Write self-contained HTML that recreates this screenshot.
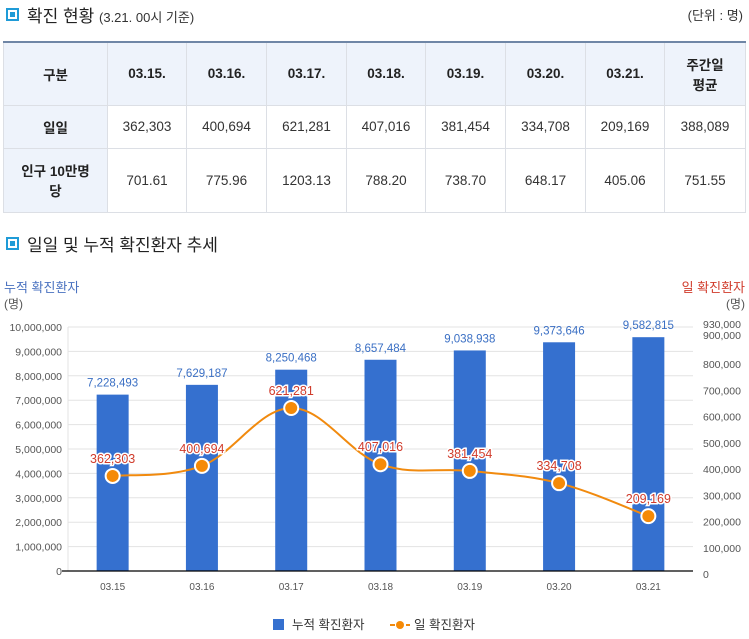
<!DOCTYPE html>
<html><head><meta charset="utf-8">
<style>
body{margin:0;width:749px;height:639px;background:#fff;font-family:"Liberation Sans","Noto Sans CJK KR",sans-serif;position:relative;overflow:hidden;color:#333}
.ttl{position:absolute;left:6px;font-size:17px;color:#222;font-weight:normal}
.ttl .sq{display:inline-block;width:9px;height:9px;border:2px solid #1f9bd7;background:#fff;margin-right:8px;vertical-align:1px;box-shadow:inset 0 0 0 2px #fff, inset 0 0 0 9px #1f9bd7}
.ttl small{font-size:13px;color:#333}
table{position:absolute;left:3px;top:41px;width:743px;border-collapse:collapse;border-top:2px solid #6f86a6;font-size:13.5px;table-layout:fixed}
td,th{border:1px solid #dcdfe5;text-align:center;color:#333}
th{background:#eef3fb;font-weight:bold;color:#222}
tr td:first-child{background:#eef3fb;font-weight:bold;color:#222}
</style></head><body>
<div class="ttl" style="top:2px"><span class="sq"></span>확진 현황 <small>(3.21. 00시 기준)</small></div>
<div style="position:absolute;right:6px;top:5px;font-size:13px">(단위 : 명)</div>
<table>
<colgroup><col style="width:104px"><col style="width:79px"><col style="width:80px"><col style="width:80px"><col style="width:79px"><col style="width:80px"><col style="width:80px"><col style="width:79px"><col></colgroup>
<tr style="height:63px"><th>구분</th><th>03.15.</th><th>03.16.</th><th>03.17.</th><th>03.18.</th><th>03.19.</th><th>03.20.</th><th>03.21.</th><th>주간일<br>평균</th></tr>
<tr style="height:43px"><td>일일</td><td>362,303</td><td>400,694</td><td>621,281</td><td>407,016</td><td>381,454</td><td>334,708</td><td>209,169</td><td>388,089</td></tr>
<tr style="height:64px"><td>인구 10만명<br>당</td><td>701.61</td><td>775.96</td><td>1203.13</td><td>788.20</td><td>738.70</td><td>648.17</td><td>405.06</td><td>751.55</td></tr>
</table>
<div class="ttl" style="top:231px"><span class="sq"></span>일일 및 누적 확진환자 추세</div>
<svg id="chart" width="749" height="639" style="position:absolute;left:0;top:0" font-family="Liberation Sans, Noto Sans CJK KR, sans-serif"></svg>
<script>
const categories=["03.15","03.16","03.17","03.18","03.19","03.20","03.21"];
const cumulative=[7228493,7629187,8250468,8657484,9038938,9373646,9582815];
const daily=[362303,400694,621281,407016,381454,334708,209169];
const leftTicks=[0,1000000,2000000,3000000,4000000,5000000,6000000,7000000,8000000,9000000,10000000];
const rightTicks=[0,100000,200000,300000,400000,500000,600000,700000,800000,900000,930000];
const NS="http://www.w3.org/2000/svg";
const svg=document.getElementById('chart');
const x0=68,x1=693,y0=571,yTop=327;
const yL=v=>y0-(v/10000000)*(y0-yTop);
const yR=v=>y0-(v/930000)*(y0-yTop);
const bw=(x1-x0)/categories.length;
const xC=i=>x0+bw*(i+0.5);
function el(t,a,txt){const e=document.createElementNS(NS,t);for(const k in a)e.setAttribute(k,a[k]);if(txt!==undefined)e.textContent=txt;svg.appendChild(e);return e;}
const fmt=v=>v.toLocaleString('en-US');
leftTicks.forEach(v=>{
  const g=el('line',{x1:x0,x2:x1,y1:yL(v),y2:yL(v),stroke:'#e3e3e3'});
  
  
  const t=el('text',{x:62,y:yL(v)+4,'text-anchor':'end','font-size':'10.5',fill:'#555'},fmt(v));
  
  
});
rightTicks.forEach(v=>{
  const dy=v===930000?-2:(v===900000?1:4);
  const t=el('text',{x:703,y:yR(v)+dy+3,'font-size':'10.5',fill:'#555'},fmt(v));
  
  
});
let ax=el('line',{x1:x0,x2:x0,y1:yTop,y2:y0,stroke:'#e3e3e3'});

cumulative.forEach((v,i)=>{
  const r=el('rect',{x:xC(i)-16,y:yL(v),width:32,height:y0-yL(v),fill:'#3570cf'});
  
  
  const t=el('text',{x:xC(i),y:yL(v)-8,'text-anchor':'middle','font-size':'11.5',fill:'#3a6fc4'},fmt(v));
  
  
  const c=el('text',{x:xC(i),y:590,'text-anchor':'middle','font-size':'10',fill:'#555'},categories[i]);
  
  
});
ax=el('line',{x1:x0-6,x2:x1,y1:y0,y2:y0,stroke:'#000','stroke-width':1.2});

const pts=daily.map((v,i)=>[xC(i),yR(v)]);
let d='M'+pts[0][0]+','+pts[0][1];
for(let i=0;i<pts.length-1;i++){
  const p0=pts[Math.max(0,i-1)],p1=pts[i],p2=pts[i+1],p3=pts[Math.min(pts.length-1,i+2)];
  const t=0.18;
  d+=` C${p1[0]+(p2[0]-p0[0])*t},${p1[1]+(p2[1]-p0[1])*t} ${p2[0]-(p3[0]-p1[0])*t},${p2[1]-(p3[1]-p1[1])*t} ${p2[0]},${p2[1]}`;
}
const ln=el('path',{d:d,fill:'none',stroke:'#f18a0e','stroke-width':2});


daily.forEach((v,i)=>{
  const c=el('circle',{cx:xC(i),cy:yR(v),r:7,fill:'#f58a07',stroke:'#fff','stroke-width':2});
  
  
  const t=el('text',{x:xC(i),y:yR(v)-13,'text-anchor':'middle','font-size':'12.5',fill:'#d03b2b',stroke:'#fff','stroke-width':3,'paint-order':'stroke'},fmt(v));
  
  
});
let a=el('text',{x:4,y:292,'font-size':'13',fill:'#4a72c0'},'누적 확진환자');

a=el('text',{x:4,y:308,'font-size':'12',fill:'#555'},'(명)');

a=el('text',{x:745,y:292,'text-anchor':'end','font-size':'13',fill:'#d03b2b'},'일 확진환자');

a=el('text',{x:745,y:308,'text-anchor':'end','font-size':'12',fill:'#555'},'(명)');

a=el('rect',{x:273,y:619,width:11,height:11,fill:'#3570cf'});

a=el('text',{x:292,y:629,'font-size':'12.5',fill:'#333'},'누적 확진환자');

a=el('line',{x1:390,x2:410,y1:625,y2:625,stroke:'#f18a0e','stroke-width':2,'stroke-dasharray':'5,3'});

a=el('circle',{cx:400,cy:625,r:4,fill:'#f58a07'});

a=el('text',{x:414,y:629,'font-size':'12.5',fill:'#333'},'일 확진환자');

</script>
</body></html>
